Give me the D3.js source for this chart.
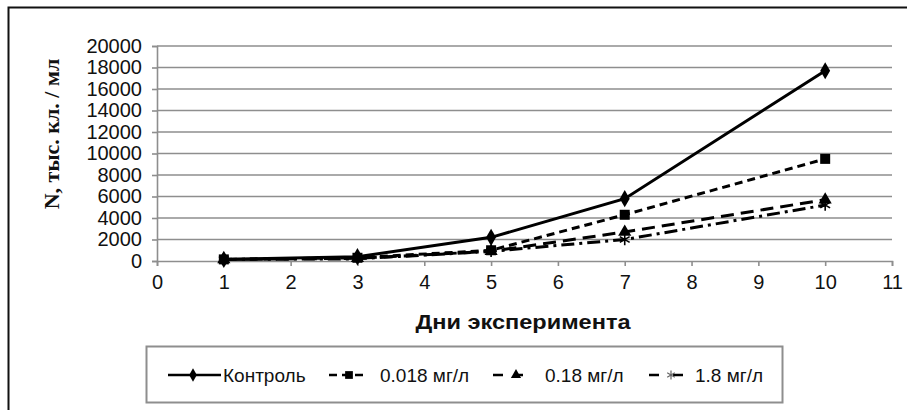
<!DOCTYPE html>
<html>
<head>
<meta charset="utf-8">
<script src="https://cdn.jsdelivr.net/npm/d3@7"></script>
<style>
  html, body { margin: 0; padding: 0; background: #fff; }
  svg { display: block; }
</style>
</head>
<body>
<svg id="chart" width="907" height="410"></svg>
<script>
// Cell density over the course of the experiment
const days = [1, 3, 5, 7, 10];
const seriesNames = ["Контроль", "0.018 мг/л", "0.18 мг/л", "1.8 мг/л"];
const control = [150, 400, 2200, 5800, 17700];
const dose0018 = [150, 300, 1000, 4300, 9500];
const dose018 = [150, 250, 900, 2700, 5700];
const dose18 = [150, 200, 900, 2000, 5200];
const xTicks = [0, 1, 2, 3, 4, 5, 6, 7, 8, 9, 10, 11];
const yTicks = [0, 2000, 4000, 6000, 8000, 10000, 12000, 14000, 16000, 18000, 20000];
const yTitle = "N, тыс. кл. / мл";
const xTitle = "Дни эксперимента";

const svg = d3.select("#chart");

// outer frame
svg.append("rect")
  .attr("x", 8.5).attr("y", 7.5)
  .attr("width", 920).attr("height", 420)
  .attr("fill", "none").attr("stroke", "#111").attr("stroke-width", 2);

const x = d3.scaleLinear().domain([0, 11]).range([157, 892]);
const y = d3.scaleLinear().domain([0, 20000]).range([261, 46]);

// horizontal gridlines
svg.append("g")
  .selectAll("line")
  .data(yTicks.filter(d => d > 0))
  .join("line")
  .attr("x1", x(0)).attr("x2", x(11))
  .attr("y1", d => y(d)).attr("y2", d => y(d))
  .attr("stroke", "#8e8e8e").attr("stroke-width", 1.6);

// y axis
const yAxis = svg.append("g")
  .attr("transform", `translate(${x(0)},0)`)
  .call(d3.axisLeft(y).tickValues(yTicks).tickSize(5).tickPadding(10).tickFormat(d3.format("d")));
yAxis.select(".domain").attr("stroke", "#8e8e8e").attr("stroke-width", 1.6);
yAxis.selectAll(".tick line").attr("stroke", "#8e8e8e").attr("stroke-width", 1.6);
yAxis.selectAll(".tick text")
  .attr("font-family", "'Liberation Sans', Arial, sans-serif")
  .attr("font-size", 20).attr("fill", "#111");

// x axis
const xAxis = svg.append("g")
  .attr("transform", `translate(0,${y(0)})`)
  .call(d3.axisBottom(x).tickValues(xTicks).tickSize(5).tickPadding(9).tickFormat(d3.format("d")));
xAxis.select(".domain").attr("stroke", "#8e8e8e").attr("stroke-width", 1.6);
xAxis.selectAll(".tick line").attr("stroke", "#8e8e8e").attr("stroke-width", 1.6);
xAxis.selectAll(".tick text")
  .attr("font-family", "'Liberation Sans', Arial, sans-serif")
  .attr("font-size", 20).attr("fill", "#111");

// axis titles
svg.append("text")
  .attr("transform", "translate(59,134) rotate(-90)")
  .attr("text-anchor", "middle")
  .attr("font-family", "'Liberation Serif', 'Times New Roman', serif")
  .attr("font-weight", "bold").attr("font-size", 22).attr("fill", "#111")
  .text(yTitle);

svg.append("text")
  .attr("x", 523).attr("y", 329)
  .attr("text-anchor", "middle")
  .attr("font-family", "'Liberation Sans', Arial, sans-serif")
  .attr("font-weight", "bold").attr("font-size", 20).attr("fill", "#111")
  .attr("textLength", 215).attr("lengthAdjust", "spacingAndGlyphs")
  .text(xTitle);

// series styles
const series = [
  { name: seriesNames[0], values: control, dash: null, symbol: d3.symbolDiamond, size: 85, stroke: false },
  { name: seriesNames[1], values: dose0018, dash: "8,5", symbol: d3.symbolSquare, size: 100, stroke: false },
  { name: seriesNames[2], values: dose018, dash: "13,7", symbol: d3.symbolTriangle, size: 75, stroke: false },
  { name: seriesNames[3], values: dose18, dash: "13,5,3,5", symbol: d3.symbolAsterisk, size: 90, stroke: true }
];

const line = d3.line().x(d => x(d[0])).y(d => y(d[1]));

const plot = svg.append("g");
// draw weaker series first so the control line sits on top
series.slice().reverse().forEach(s => {
  const pts = days.map((d, i) => [d, s.values[i]]);
  plot.append("path")
    .datum(pts)
    .attr("d", line)
    .attr("fill", "none")
    .attr("stroke", "#000")
    .attr("stroke-width", 3)
    .attr("stroke-dasharray", s.dash);
  plot.append("g")
    .selectAll("path")
    .data(pts)
    .join("path")
    .attr("transform", d => `translate(${x(d[0])},${y(d[1])})`)
    .attr("d", d3.symbol(s.symbol, s.size))
    .attr("fill", s.stroke ? "none" : "#000")
    .attr("stroke", "#000")
    .attr("stroke-width", s.stroke ? 1.6 : 0);
});

// legend
svg.append("rect")
  .attr("x", 146.5).attr("y", 346.5)
  .attr("width", 636).attr("height", 56)
  .attr("fill", "#fff").attr("stroke", "#8e8e8e").attr("stroke-width", 2);

const legendY = 375;
const legendItems = [
  { x1: 168, x2: 221, mx: 193, tx: 223 },
  { x1: 329, x2: 367, mx: 349, tx: 380 },
  { x1: 493, x2: 523, mx: 516, tx: 545 },
  { x1: 649, x2: 693, mx: 671, tx: 695 }
];
const legendDash = [null, "8,5", "10,14", "10,14"];

series.forEach((s, i) => {
  const L = legendItems[i];
  const g = svg.append("g");
  g.append("line")
    .attr("x1", L.x1).attr("x2", L.x2)
    .attr("y1", legendY).attr("y2", legendY)
    .attr("stroke", "#000").attr("stroke-width", 2.5)
    .attr("stroke-dasharray", legendDash[i]);
  g.append("path")
    .attr("transform", `translate(${L.mx},${legendY})`)
    .attr("d", d3.symbol(s.symbol, s.size * 0.6))
    .attr("fill", s.stroke ? "none" : "#000")
    .attr("stroke", s.stroke ? "#666" : "none")
    .attr("stroke-width", 1.2);
  g.append("text")
    .attr("x", L.tx).attr("y", legendY)
    .attr("dy", "0.35em")
    .attr("font-family", "'Liberation Sans', Arial, sans-serif")
    .attr("font-size", 19).attr("fill", "#111")
    .text(s.name);
});
</script>
</body>
</html>
